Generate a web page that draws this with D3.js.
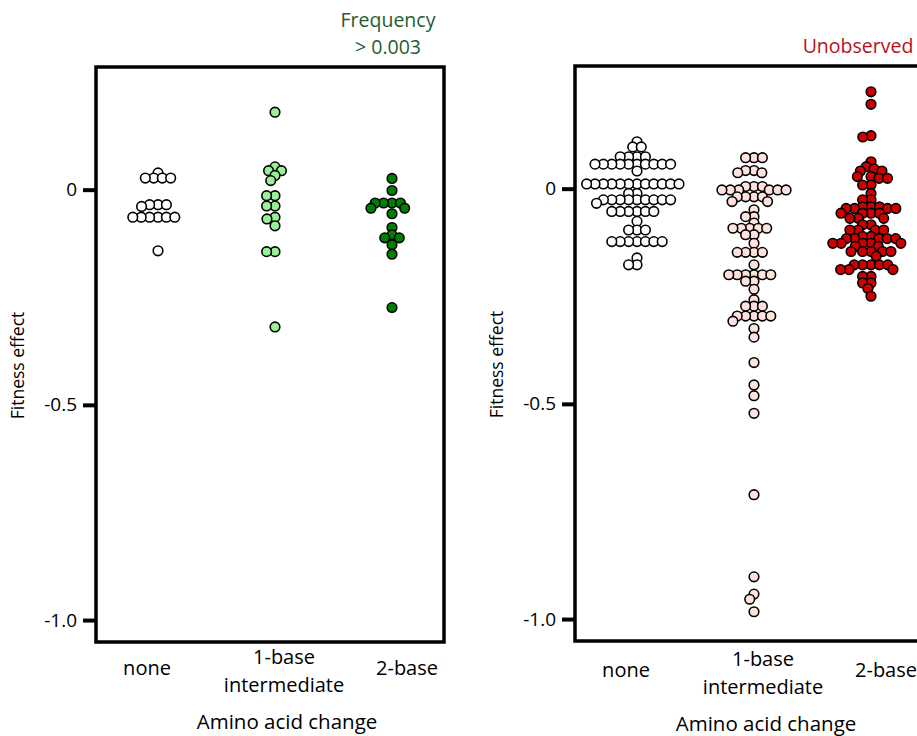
<!DOCTYPE html>
<html>
<head>
<meta charset="utf-8">
<script src="https://cdn.jsdelivr.net/npm/d3@7"></script>
<style>
  body { margin: 0; background: #fff; }
  svg { display: block; font-family: "Open Sans", sans-serif; }
</style>
</head>
<body>
<div id="chart"></div>
<script>
// fitness effects, one array per group

var categories = ["none", "1-base", "2-base"];
var categoryLines = [["none"], ["1-base", "intermediate"], ["2-base"]];
var yTicks = [0, -0.5, -1.0];
var yTickLabels = ["0", "-0.5", "-1.0"];

// left panel: frequency > 0.003
var freqNone = [0.039, 0.027, 0.027, 0.027, 0.027, -0.035, -0.035, -0.035, -0.039,
	-0.064, -0.064, -0.064, -0.064, -0.064, -0.064, -0.142];
var freqOne = [0.18, 0.053, 0.044, 0.044, 0.033, 0.021, -0.014, -0.014, -0.038, -0.038,
	-0.064, -0.068, -0.084, -0.144, -0.144, -0.319];
var freqTwo = [0.026, -0.002, -0.031, -0.031, -0.031, -0.031, -0.043, -0.043, -0.056,
	-0.088, -0.105, -0.112, -0.112, -0.128, -0.15, -0.274];

// right panel: unobserved
var unobsNone = [0.109, 0.097, 0.097, 0.074, 0.074, 0.074, 0.074,
	0.057, 0.057, 0.057, 0.057, 0.057, 0.057, 0.057, 0.057, 0.057, 0.057, 0.041,
	0.011, 0.011, 0.011, 0.011, 0.011, 0.011, 0.011, 0.011, 0.011, 0.011, 0.011, 0.011,
	-0.011, -0.011, -0.026, -0.026, -0.026, -0.026, -0.026, -0.026, -0.026, -0.026, -0.026,
	-0.034, -0.053, -0.053, -0.053, -0.053, -0.053, -0.053, -0.076,
	-0.096, -0.096, -0.096, -0.123, -0.123, -0.123, -0.123, -0.123, -0.123, -0.123,
	-0.161, -0.177, -0.177];
var unobsOne = [0.072, 0.072, 0.072, 0.042, 0.042, 0.037, 0.037, 0.005, 0.005, 0.005,
	-0.003, -0.003, -0.003, -0.003, -0.003, -0.003, -0.019, -0.019, -0.019, -0.019,
	-0.03, -0.03, -0.049, -0.065, -0.065, -0.08, -0.092, -0.092, -0.092, -0.092, -0.092,
	-0.107, -0.107, -0.127, -0.148, -0.148, -0.148, -0.148, -0.177,
	-0.2, -0.2, -0.2, -0.2, -0.2, -0.2, -0.215, -0.215, -0.234, -0.258,
	-0.273, -0.273, -0.273, -0.296, -0.296, -0.296, -0.296, -0.296, -0.308, -0.325, -0.345,
	-0.404, -0.456, -0.481, -0.522, -0.711, -0.902, -0.942, -0.954, -0.983];
var unobsTwo = [0.225, 0.196, 0.123, 0.12, 0.0625, 0.051, 0.046, 0.041, 0.041, 0.028, 0.028,
	0.024, 0.024, 0.0085, 0.0085, -0.011, -0.026, -0.026, -0.042, -0.042, -0.042,
	-0.046, -0.046, -0.046, -0.046, -0.057, -0.057, -0.057, -0.057, -0.069, -0.069, -0.069,
	-0.084, -0.084, -0.096, -0.096, -0.096, -0.096, -0.111, -0.111,
	-0.116, -0.116, -0.116, -0.116, -0.116, -0.127, -0.127, -0.127, -0.127, -0.127,
	-0.134, -0.134, -0.146, -0.146, -0.146, -0.146, -0.146, -0.157,
	-0.177, -0.177, -0.177, -0.177, -0.177, -0.188, -0.188, -0.188,
	-0.204, -0.204, -0.219, -0.219, -0.232, -0.25];

var width = 917, height = 736;
var panelW = 348, panelH = 575;
var dotR = 4.8;
var sx = 8.4, sy = 6;   // dots may overlap, more so vertically

var svg = d3.select("#chart").append("svg")
	.attr("width", width)
	.attr("height", height);

// greedy beeswarm: each dot goes to the free x closest to the centre
function swarm(values, y) {
	var placed = [];
	values.slice().sort(function (a, b) { return b - a; }).forEach(function (v) {
		var py = y(v);
		var blocks = [];
		placed.forEach(function (q) {
			var dy = Math.abs(q.y - py);
			if (dy < sy) {
				var dx = sx * Math.sqrt(1 - (dy / sy) * (dy / sy));
				blocks.push([q.x - dx, q.x + dx]);
			}
		});
		var cands = [0];
		blocks.forEach(function (b) { cands.push(b[0], b[1]); });
		cands.sort(function (a, b) { return Math.abs(a) - Math.abs(b); });
		var px = cands.find(function (c) {
			return blocks.every(function (b) { return c <= b[0] + 1e-6 || c >= b[1] - 1e-6; });
		});
		placed.push({ v: v, x: px, y: py });
	});
	return placed;
}

function panel(opts) {
	var g = svg.append("g").attr("transform", "translate(" + opts.left + "," + opts.top + ")");

	var y = d3.scaleLinear().domain([-1.051, 0.285]).range([panelH, 0]);
	var x = d3.scalePoint().domain(categories).range([62, 296]);

	// dots
	opts.groups.forEach(function (vals, i) {
		g.append("g")
			.selectAll("circle")
			.data(swarm(vals, y))
			.join("circle")
				.attr("cx", function (d) { return x(categories[i]) + d.x; })
				.attr("cy", function (d) { return d.y; })
				.attr("r", dotR)
				.attr("fill", opts.colors[i])
				.attr("stroke", "#000")
				.attr("stroke-width", 1.6);
	});

	// frame
	g.append("rect")
		.attr("width", panelW)
		.attr("height", panelH)
		.attr("fill", "none")
		.attr("stroke", "#000")
		.attr("stroke-width", 3.5);

	// y axis
	var yAxis = g.append("g")
		.call(d3.axisLeft(y).tickValues(yTicks).tickSize(13).tickPadding(6)
			.tickFormat(function (d, i) { return yTickLabels[i]; }));
	yAxis.select(".domain").remove();
	yAxis.selectAll("line").attr("stroke-width", 4);
	yAxis.selectAll("text")
		.attr("font-family", "Open Sans, sans-serif")
		.attr("font-size", 19)
		.attr("fill", "#000");

	g.append("text")
		.attr("transform", "translate(-72," + (panelH / 2 + 11) + ") rotate(-90)")
		.attr("text-anchor", "middle")
		.attr("font-size", 17.5)
		.text("Fitness effect");

	// category labels
	var shift = [-11, 9, 15];
	categoryLines.forEach(function (lines, i) {
		var t = g.append("text")
			.attr("text-anchor", "middle")
			.attr("font-size", 20)
			.attr("transform", "translate(" + (x(categories[i]) + shift[i]) + "," + (panelH + opts.labelDy) + ")");
		lines.forEach(function (s, j) {
			t.append("tspan")
				.attr("x", 0)
				.attr("y", lines.length > 1 ? (j === 0 ? -11 : 17) : 0)
				.text(s);
		});
	});

	g.append("text")
		.attr("x", 191)
		.attr("y", panelH + opts.labelDy + 54)
		.attr("text-anchor", "middle")
		.attr("font-size", 20.5)
		.text("Amino acid change");

	// title
	var title = g.append("text")
		.attr("text-anchor", "middle")
		.attr("fill", opts.titleColor)
		.attr("font-size", 19.5);
	opts.title.forEach(function (s, j) {
		title.append("tspan")
			.attr("x", opts.titleX)
			.attr("y", opts.titleY + j * 27)
			.text(s);
	});
}

panel({
	left: 96, top: 67, labelDy: 33,
	groups: [freqNone, freqOne, freqTwo],
	colors: ["#ffffff", "#98f098", "#008000"],
	title: ["Frequency", "> 0.003"], titleX: 292, titleY: -40,
	titleColor: "#1e5e32"
});

panel({
	left: 575, top: 66, labelDy: 36,
	groups: [unobsNone, unobsOne, unobsTwo],
	colors: ["#ffffff", "#ffe2de", "#cc0000"],
	title: ["Unobserved"], titleX: 283, titleY: -13,
	titleColor: "#b3121b"
});
</script>
</body>
</html>
